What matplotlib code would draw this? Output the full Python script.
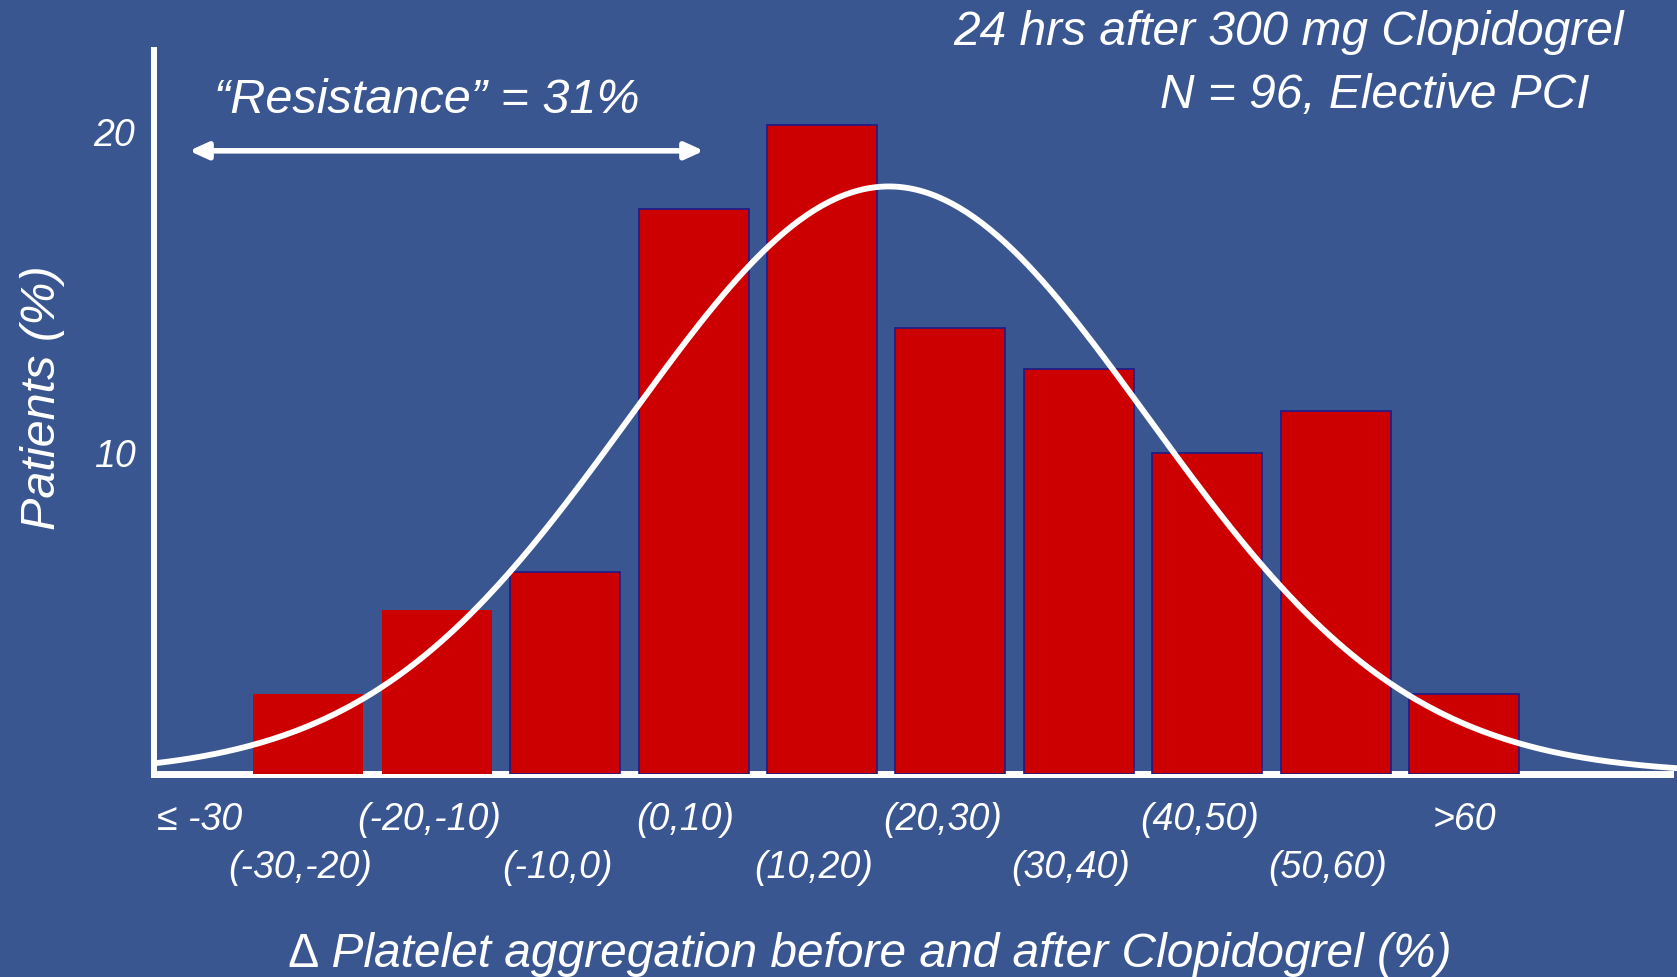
import numpy as np
import matplotlib
matplotlib.use("Agg")
import matplotlib.pyplot as plt
from matplotlib import transforms

BG = "#3A5691"
RED = "#CC0000"
EDGE = "#1C1C8A"
FONT = ["Liberation Sans", "DejaVu Sans"]

# bins of delta platelet aggregation (%), plotted at their centres
bins = ["\u2264 -30", "(-30,-20)", "(-20,-10)", "(-10,0)", "(0,10)", "(10,20)",
        "(20,30)", "(30,40)", "(40,50)", "(50,60)", ">60"]
bin_centre = [-35, -25, -15, -5, 5, 15, 25, 35, 45, 55, 65]
patients = [0, 2.5, 5.1, 6.3, 17.6, 20.2, 13.9, 12.6, 10.0, 11.3, 2.5]

# normal fit drawn over the histogram
fit_mean = 20.2
fit_sd = 20.2
fit_peak = 18.3

# span of the "resistance" arrow, in % aggregation
resist_from, resist_to = -34.3, 5.8

W, H = 1677, 977
fig = plt.figure(figsize=(W/100, H/100), dpi=100, facecolor=BG)
plt.rcParams["font.family"] = FONT
ax = fig.add_axes([153.5/W, 1-774/H, (1670-153.5)/W, (774-50)/H])
ax.set_facecolor(BG)
ax.set_xlim(-37.07, 81.04)
ax.set_ylim(0, 22.55)

edges = ["none" if i < 3 else EDGE for i in range(len(patients))]
ax.bar(bin_centre, patients, width=8.57, color=RED, edgecolor=edges, lw=1.2, zorder=3)

xs = np.linspace(-37.07, 81.6, 400)
ys = fit_peak*np.exp(-0.5*((xs-fit_mean)/fit_sd)**2)
ax.plot(xs, ys, color="white", lw=4.2, zorder=4, clip_on=False, solid_capstyle="butt")

for s in ["top", "right"]:
    ax.spines[s].set_visible(False)
ax.spines["left"].set_color("white")
ax.spines["left"].set_linewidth(4.3)
ax.spines["bottom"].set_color("white")
ax.spines["bottom"].set_linewidth(5)
ax.spines["bottom"].set_zorder(2)

ax.set_yticks([10, 20], ["10", "20"])
ax.tick_params(axis="y", length=0, pad=13, labelsize=27, labelcolor="white")
for t in ax.get_yticklabels():
    t.set_style("italic")

# staggered category labels: major ticks on top row, minor ticks below
top_row = [0, 2, 4, 6, 8, 10]
low_row = [1, 3, 5, 7, 9]
ax.set_xticks([bin_centre[i] for i in top_row], [bins[i] for i in top_row])
ax.set_xticks([bin_centre[i] for i in low_row], [bins[i] for i in low_row], minor=True)
ax.tick_params(axis="x", which="both", length=0, labelsize=27, labelcolor="white")
ax.tick_params(axis="x", which="major", pad=20.5)
ax.tick_params(axis="x", which="minor", pad=54.5)
for t in ax.get_xticklabels(which="both"):
    t.set_style("italic")
    s = t.get_text()
    dx = 20 if s.startswith("\u2264") else (0 if s.startswith(">") else -8)
    t.set_transform(t.get_transform() +
                    transforms.ScaledTranslation(dx/100, 0, fig.dpi_scale_trans))

ax.annotate("", xy=(resist_to, 19.41), xytext=(resist_from, 19.41), xycoords="data",
            arrowprops=dict(arrowstyle="<|-|>,head_length=0.55,head_width=0.25",
                            color="white", lw=4, shrinkA=0, shrinkB=0,
                            mutation_scale=20), annotation_clip=False)

txt = dict(color="white", style="italic", transform=fig.transFigure)
fig.text(427/W, 1-113/H, "\u201cResistance\u201d = 31%", ha="center", va="baseline",
         fontsize=35, **txt)
fig.text(1289/W, 1-45/H, "24 hrs after 300 mg Clopidogrel", ha="center",
         va="baseline", fontsize=34.5, **txt)
fig.text(1375/W, 1-108/H, "N = 96, Elective PCI", ha="center", va="baseline",
         fontsize=34.5, **txt)
fig.text(870/W, 1-967/H, "\u2206 Platelet aggregation before and after Clopidogrel (%)",
         ha="center", va="baseline", fontsize=34.5, **txt)
fig.text(55/W, 1-398/H, "Patients (%)", ha="center", va="baseline", rotation=90,
         rotation_mode="anchor", fontsize=35, **txt)

fig.savefig("out.png", dpi=100, facecolor=BG)
